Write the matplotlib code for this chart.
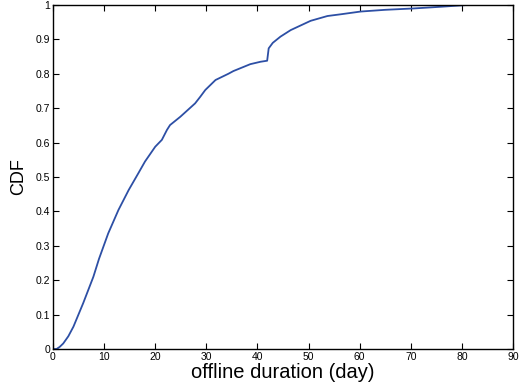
import matplotlib
matplotlib.use("Agg")
import matplotlib.pyplot as plt

# CDF of offline duration (days)
duration = [0.0, 0.7, 1.3, 2.0, 3.0, 4.0, 5.9, 7.9, 9.0, 10.8, 12.8, 14.8, 16.7, 18.0,
            20.0, 21.3, 22.3, 22.9, 24.9, 27.8, 28.8, 29.8, 31.8, 34.3, 35.3, 38.6,
            40.6, 41.9, 42.2, 43.0, 44.5, 46.5, 50.4, 53.7, 56.3, 60.2, 65.0, 70.6,
            76.0, 81.0]
cdf = [0.0, 0.0, 0.006, 0.016, 0.037, 0.065, 0.133, 0.21, 0.262, 0.336, 0.404, 0.462,
       0.511, 0.545, 0.588, 0.608, 0.637, 0.651, 0.675, 0.714, 0.733, 0.753, 0.782,
       0.80, 0.808, 0.828, 0.835, 0.838, 0.874, 0.89, 0.908, 0.927, 0.954, 0.968,
       0.973, 0.981, 0.986, 0.990, 0.995, 1.0]

xticks = [0, 10, 20, 30, 40, 50, 60, 70, 80, 90]
yticks = [0, 0.1, 0.2, 0.3, 0.4, 0.5, 0.6, 0.7, 0.8, 0.9, 1]
ytick_labels = ["0", "0.1", "0.2", "0.3", "0.4", "0.5", "0.6", "0.7", "0.8", "0.9", "1"]

plt.rcParams['font.family'] = ['Liberation Sans', 'DejaVu Sans']

fig = plt.figure(figsize=(5.19, 3.90), dpi=100)
ax = fig.add_axes([53/519, 41/390, 460/519, 344/390])
ax.plot(duration, cdf, color='#2d4fa5', linewidth=1.3)

ax.set_xlim(0, 90)
ax.set_ylim(0, 1)
ax.set_xticks(xticks)
ax.set_yticks(yticks)
ax.set_yticklabels(ytick_labels)
ax.tick_params(direction='in', top=True, right=True, length=4, width=0.8,
               labelsize=7.5, pad=2)
for s in ax.spines.values():
    s.set_linewidth(1.0)

ax.set_xlabel("offline duration (day)", fontsize=14.5, labelpad=1)
ax.set_ylabel("CDF", fontsize=13, labelpad=6)

fig.savefig("out.png", dpi=100)
